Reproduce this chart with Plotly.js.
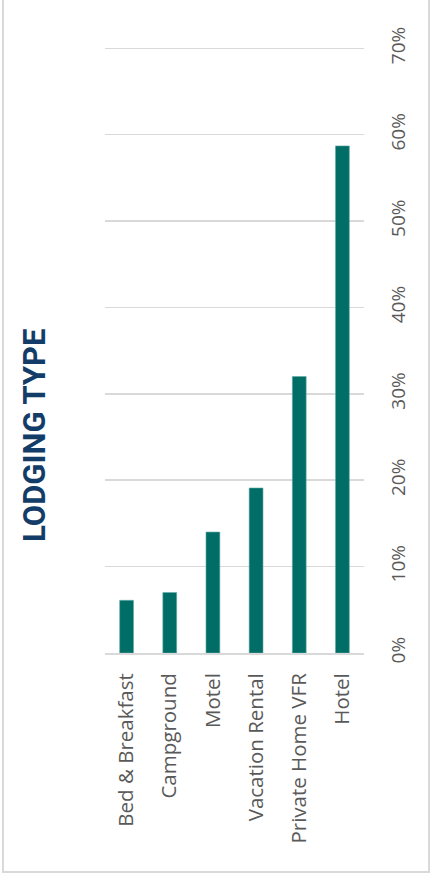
<!DOCTYPE html>
<html>
<head>
<meta charset="utf-8">
<script src="https://cdn.plot.ly/plotly-3.0.1.min.js"></script>
<style>
html,body{margin:0;padding:0;background:#fff;overflow:hidden;}
#wrap{position:relative;width:433px;height:878px;}
#chart{width:433px;height:878px;}
#frame{position:absolute;left:2px;top:-5px;width:424px;height:874px;border:2px solid #d9d9d9;pointer-events:none;}
</style>
</head>
<body>
<div id="wrap"><div id="chart"></div><div id="frame"></div></div>
<script>
const categories = ["Bed & Breakfast", "Campground", "Motel", "Vacation Rental", "Private Home VFR", "Hotel"];
const shares = [0.061, 0.070, 0.140, 0.191, 0.320, 0.587];
const tickValues = [0, 0.1, 0.2, 0.3, 0.4, 0.5, 0.6, 0.7];
const tickLabels = ["0%", "10%", "20%", "30%", "40%", "50%", "60%", "70%"];
const chartTitle = "LODGING TYPE";

const W = 433, H = 878;
const L = 105, R = 364, T = 47, B = 653;

Plotly.newPlot('chart', [{
  type: 'bar',
  x: categories,
  y: shares,
  marker: {color: '#006E66', line: {color: '#5FA8A2', width: 0.6}},
  hoverinfo: 'skip'
}], {
  width: W, height: H,
  margin: {l: L, r: W - R, t: T, b: H - B, pad: 0},
  paper_bgcolor: '#ffffff',
  plot_bgcolor: '#ffffff',
  showlegend: false,
  bargap: 0.68,
  xaxis: {
    type: 'category',
    tickangle: -90,
    tickfont: {family: 'Open Sans', size: 20.5, color: '#595959'},
    ticks: '',
    ticklabelstandoff: 10,
    showline: true, linecolor: '#d9d9d9', linewidth: 2,
    showgrid: false, zeroline: false, fixedrange: true
  },
  yaxis: {
    range: [0, 0.7015],
    side: 'right',
    tickvals: tickValues,
    ticktext: tickLabels,
    tickangle: -90,
    tickfont: {family: 'Open Sans', size: 19, color: '#595959'},
    ticks: '',
    ticklabelstandoff: 21,
    showgrid: true, gridcolor: '#d9d9d9', gridwidth: 1.6,
    zeroline: false, showline: false, fixedrange: true
  },
  annotations: [{
    text: '<b>' + chartTitle + '</b>',
    xref: 'paper', yref: 'paper',
    x: (34 - L) / (R - L), y: (B - 436) / (B - T),
    xanchor: 'center', yanchor: 'middle',
    textangle: -90, showarrow: false,
    font: {family: 'Roboto', size: 31, color: '#133C68'}
  }]
}, {displayModeBar: false, staticPlot: true});
</script>
</body>
</html>
